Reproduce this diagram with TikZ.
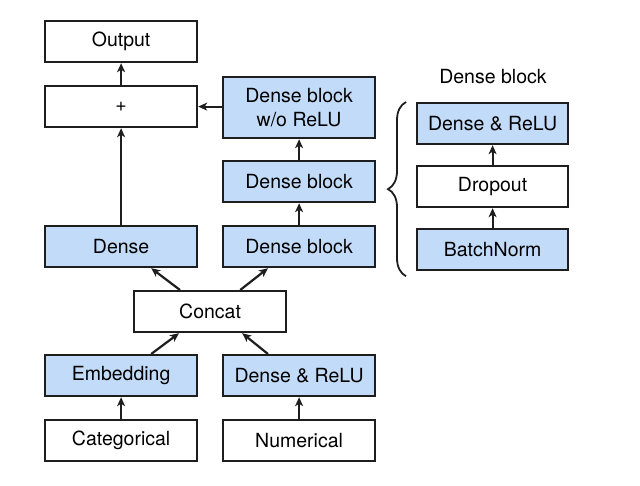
\documentclass[tikz,border=0pt]{standalone}
\usepackage{fontspec}
\setmainfont{TeX Gyre Heros}
\usetikzlibrary{arrows.meta,decorations.pathreplacing,calc}
\definecolor{boxblue}{HTML}{C2DBF8}
\definecolor{edge}{HTML}{1E1E1E}
\begin{document}
\begin{tikzpicture}[x=1pt,y=-1pt,
  base/.style={draw=edge,line width=2.2pt,minimum width=152pt,minimum height=41pt,inner sep=0pt,font=\fontsize{19.5}{23}\selectfont,align=center,anchor=north west},
  whitebox/.style={base,fill=white},
  bluebox/.style={base,fill=boxblue},
  arr/.style={-{Stealth[length=9pt,width=8pt,inset=2.5pt]},line width=2.2pt,draw=edge}]
\useasboundingbox (0,0) rectangle (640,485);
% left column
\node[whitebox] (out) at (44,20) {Output};
\node[whitebox] (plus) at (44,85) {+};
\node[bluebox] (dense) at (44,225) {Dense};
\node[whitebox] (concat) at (133,290) {Concat};
\node[bluebox] (emb) at (44,354) {Embedding};
\node[whitebox] (cat) at (44,419) {Categorical};
% right column
\node[bluebox,minimum height=61pt] (dbn) at (222,76) {Dense block\\[1pt]w/o ReLU};
\node[bluebox] (db2) at (222,160) {Dense block};
\node[bluebox] (db1) at (222,225) {Dense block};
\node[bluebox] (dr) at (222,354) {Dense \& ReLU};
\node[whitebox] (num) at (222,419) {Numerical};
% dense block detail
\node[font=\fontsize{19.5}{23}\selectfont] (title) at (493,77) {Dense block};
\node[bluebox,minimum width=151pt] (bdr) at (416,102) {Dense \& ReLU};
\node[whitebox,minimum width=151pt] (bdo) at (416,165) {Dropout};
\node[bluebox,minimum width=151pt] (bbn) at (416,228) {BatchNorm};
% arrows
\draw[arr] (cat.north) -- (emb.south);
\draw[arr] (num.north) -- (dr.south);
\draw[arr] ([xshift=-47pt]emb.north east) -- ([xshift=46pt]concat.south west);
\draw[arr] ([xshift=46pt]dr.north west) -- ([xshift=-45pt]concat.south east);
\draw[arr] ([xshift=47pt]concat.north west) -- ([xshift=-47pt]dense.south east);
\draw[arr] ([xshift=-47pt]concat.north east) -- ([xshift=46pt]db1.south west);
\draw[arr] (dense.north) -- (plus.south);
\draw[arr] (plus.north) -- (out.south);
\draw[arr] (db1.north) -- (db2.south);
\draw[arr] (db2.north) -- (dbn.south);
\draw[arr] (dbn.west |- plus.east) -- (plus.east);
\draw[arr] (bbn.north) -- (bdo.south);
\draw[arr] (bdo.north) -- (bdr.south);
% brace
\coordinate (b1) at ($(bbn.south west)+(-10pt,-5pt)$);
\coordinate (b2) at ($(bdr.north west)+(-10pt,0pt)$);
\draw[line width=1.8pt,draw=edge,decorate,decoration={brace,amplitude=18pt,aspect=0.5}] (b1) -- (b2);
\end{tikzpicture}
\end{document}
